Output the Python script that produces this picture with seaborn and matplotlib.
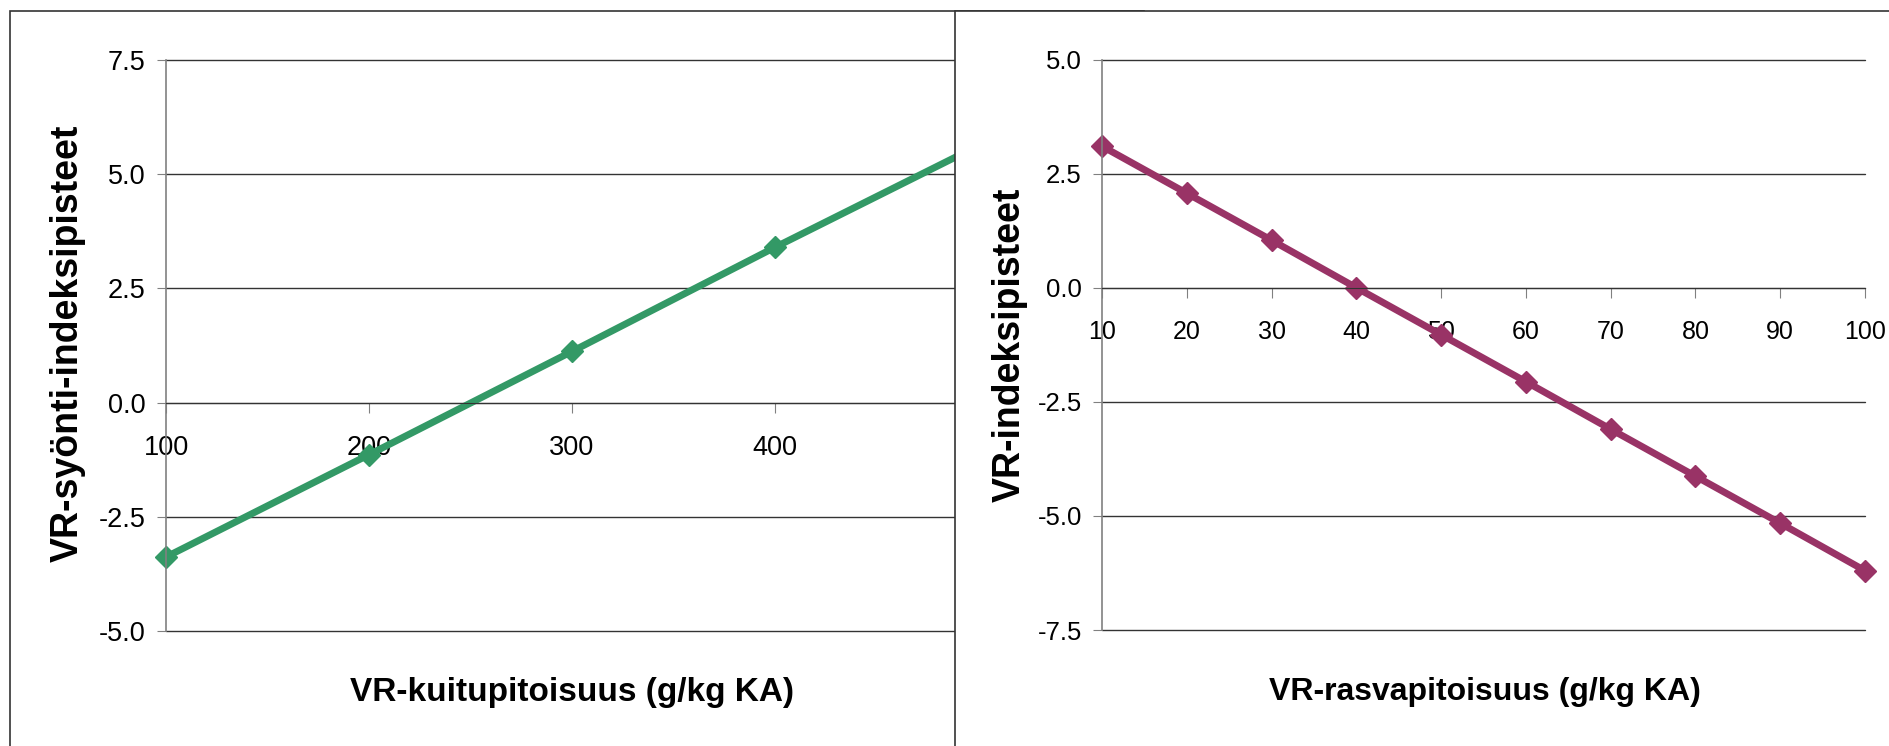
import matplotlib
matplotlib.use("Agg")
import matplotlib.pyplot as plt
import seaborn as sns
from matplotlib.patches import Rectangle
from matplotlib.ticker import FormatStrFormatter

# kuitupitoisuus -> syönti-indeksipisteet
kuitu_x = [100, 200, 300, 400, 500]
kuitu_y = [-3.38, -1.14, 1.12, 3.40, 5.62]
kuitu_xticks = [100, 200, 300, 400]   # 500 sits under the right chart
kuitu_yticks = [-5.0, -2.5, 0.0, 2.5, 5.0, 7.5]

# rasvapitoisuus -> indeksipisteet
rasva_x = [10, 20, 30, 40, 50, 60, 70, 80, 90, 100]
rasva_y = [3.10, 2.07, 1.04, 0.0, -1.03, -2.06, -3.10, -4.13, -5.16, -6.20]
rasva_yticks = [-7.5, -5.0, -2.5, 0.0, 2.5, 5.0]

green = "#339966"
purple = "#993366"

sns.set_style("white")
plt.rcParams['font.family'] = ['Liberation Sans', 'DejaVu Sans']
plt.rcParams['axes.unicode_minus'] = False
plt.rcParams['text.color'] = 'black'
plt.rcParams['axes.labelcolor'] = 'black'

W, H = 1890, 746
fig = plt.figure(figsize=(W / 100, H / 100), dpi=100)


def px_box(x0, x1, y_top, y_bot):
    # pixel box -> figure fraction [left, bottom, width, height]
    return [x0 / W, 1 - y_bot / H, (x1 - x0) / W, (y_bot - y_top) / H]


def style_axis(ax, xticks, xlim, yticks, fs_x, fs_y):
    for s in ['top', 'right']:
        ax.spines[s].set_visible(False)
    ax.spines['bottom'].set_position(('data', 0))
    ax.spines['bottom'].set_color('#333333')
    ax.spines['left'].set_color('#808080')
    ax.spines['left'].set_linewidth(1.2)
    ax.set_xticks(xticks)
    ax.set_xticklabels([str(v) for v in xticks])
    ax.set_yticks(yticks)
    ax.yaxis.set_major_formatter(FormatStrFormatter('%.1f'))
    ax.set_ylim(yticks[0], yticks[-1])
    ax.set_xlim(*xlim)
    ax.grid(axis='y', color='#333333', linewidth=1)
    ax.grid(axis='x', visible=False)
    for gl in ax.get_ygridlines():
        gl.set_clip_on(False)
    ax.tick_params(axis='x', direction='out', length=7, color='#808080',
                   labelsize=fs_x, labelcolor='black', pad=16.5, bottom=True)
    ax.tick_params(axis='y', direction='out', length=6.5, color='#808080',
                   labelsize=fs_y, labelcolor='black', pad=8, left=True)
    ax.set_axisbelow(True)


# left chart frame (partly hidden under the right one)
fig.add_artist(Rectangle((10 / W, -0.1), 0.6, 1.1 - 11 / H, transform=fig.transFigure,
                         facecolor='white', edgecolor='#333333', linewidth=1.2, zorder=-1))

ax1 = fig.add_axes(px_box(166, 978, 60, 631), zorder=0)
ax1.set_facecolor('none')
sns.lineplot(x=kuitu_x, y=kuitu_y, ax=ax1, color=green, linewidth=5, marker='D',
             markersize=11.5, markeredgecolor=green, markeredgewidth=1, clip_on=False)
style_axis(ax1, kuitu_xticks, (kuitu_x[0], kuitu_x[-1]), kuitu_yticks, 19.5, 19.5)
ax1.set_xlabel("VR-kuitupitoisuus (g/kg KA)", fontsize=24, fontweight='bold', va='center')
ax1.set_ylabel("VR-syönti-indeksipisteet", fontsize=27, fontweight='bold', va='center')
ax1.xaxis.set_label_coords(0.5, -0.107)
ax1.yaxis.set_label_coords(-0.121, 0.504)

# right chart frame on top
fig.add_artist(Rectangle((955 / W, -0.1), 0.6, 1.1 - 10.5 / H, transform=fig.transFigure,
                         facecolor='white', edgecolor='#333333', linewidth=1.2, zorder=1))

ax2 = fig.add_axes(px_box(1102, 1865, 59.5, 630), zorder=2)
ax2.set_facecolor('none')
sns.lineplot(x=rasva_x, y=rasva_y, ax=ax2, color=purple, linewidth=5, marker='D',
             markersize=11.5, markeredgecolor=purple, markeredgewidth=1, clip_on=False)
style_axis(ax2, rasva_x, (rasva_x[0], rasva_x[-1]), rasva_yticks, 18, 18.5)
ax2.set_xlabel("VR-rasvapitoisuus (g/kg KA)", fontsize=23, fontweight='bold', va='center')
ax2.set_ylabel("VR-indeksipisteet", fontsize=27, fontweight='bold', va='center')
ax2.xaxis.set_label_coords(0.502, -0.1087)
ax2.yaxis.set_label_coords(-0.121, 0.4996)

fig.savefig("out.png", dpi=100)
